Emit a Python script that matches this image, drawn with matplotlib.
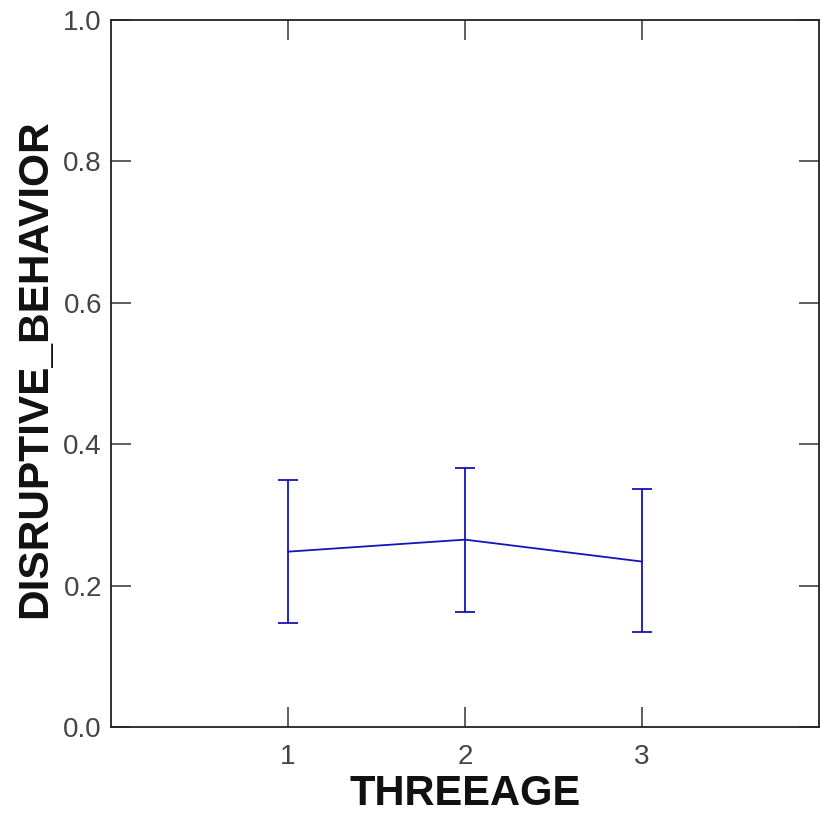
import matplotlib
matplotlib.use("Agg")
import matplotlib.pyplot as plt

x_vals = [1, 2, 3]
means = [0.248, 0.265, 0.234]
upper = [0.350, 0.367, 0.336]
lower = [0.147, 0.163, 0.135]
x_ticks = [1, 2, 3]
y_ticks = [0.0, 0.2, 0.4, 0.6, 0.8, 1.0]

plt.rcParams['font.family'] = ['Liberation Sans', 'DejaVu Sans']

fig = plt.figure(figsize=(8.23, 8.13), dpi=100)
ax = fig.add_axes([111/823, 86/813, 708/823, 707/813])

err_lo = [m - l for m, l in zip(means, lower)]
err_hi = [u - m for m, u in zip(means, upper)]
color = '#1414b8'
ax.errorbar(x_vals, means, yerr=[err_lo, err_hi], color=color, lw=1.3,
            elinewidth=1.3, capsize=7.2, capthick=1.3)

ax.set_xlim(0, 4)
ax.set_ylim(0, 1)
ax.set_xticks(x_ticks)
ax.set_xticklabels([str(t) for t in x_ticks])
ax.set_yticks(y_ticks)
ax.set_yticklabels([f"{t:.1f}" for t in y_ticks])
ax.tick_params(direction='in', length=14.4, width=1.1, top=True, right=True,
               labelsize=20, colors='#333333', labelcolor='#444444')
ax.tick_params(axis='y', pad=6.5)
ax.tick_params(axis='x', pad=12)
for s in ax.spines.values():
    s.set_linewidth(1.3)
    s.set_color('#222222')

ax.set_xlabel('THREEAGE', fontsize=30, fontweight='bold', labelpad=3, color='#111111')
ax.set_ylabel('DISRUPTIVE_BEHAVIOR', fontsize=30.5, fontweight='bold', labelpad=6, color='#111111',
              y=0.507)

fig.savefig('out.png', dpi=100)
